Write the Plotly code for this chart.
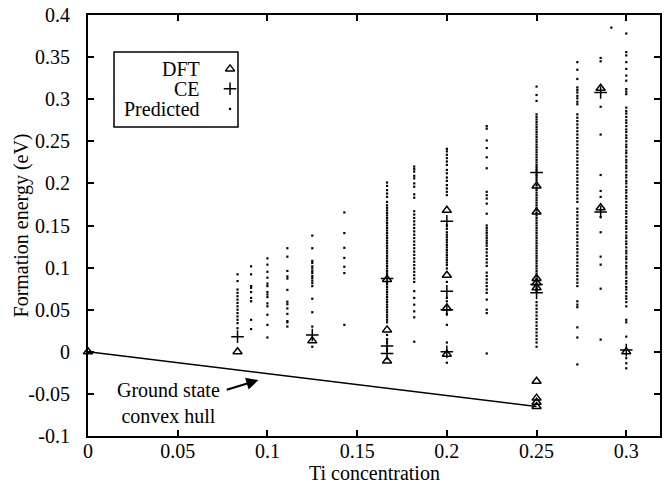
import plotly.graph_objects as go

# ---------------- data ----------------
# compositions (Ti concentration) of predicted structures
pred_x_1_12 = 1 / 12
pred_y_1_12 = [0.092, 0.084, 0.074, 0.070, 0.066, 0.062, 0.058, 0.054, 0.050, 0.046,
               0.042, 0.038, 0.034, 0.028]
pred_x_1_11 = 1 / 11
pred_y_1_11 = [0.1015, 0.092, 0.078, 0.076, 0.071, 0.064, 0.060, 0.038, 0.027]
pred_x_1_10 = 0.1
pred_y_1_10 = [0.111, 0.1035, 0.095, 0.088, 0.081, 0.078, 0.071, 0.068, 0.065, 0.0575,
               0.054, 0.044, 0.032, 0.017]
pred_x_1_9 = 1 / 9
pred_y_1_9 = [0.123, 0.113, 0.096, 0.0895, 0.087, 0.0735, 0.0595, 0.0565, 0.0515, 0.045,
              0.0365, 0.035, 0.030]
pred_x_1_8 = 1 / 8
pred_y_1_8 = [0.138, 0.123, 0.108, 0.1055, 0.1015, 0.099, 0.096, 0.0935, 0.090, 0.0875,
              0.0845, 0.0815, 0.078, 0.063, 0.047, 0.030, 0.006]
pred_x_1_7 = 1 / 7
pred_y_1_7 = [0.1655, 0.141, 0.1235, 0.1115, 0.101, 0.0935, 0.032]
pred_x_1_6 = 1 / 6
pred_y_1_6 = [0.201, 0.197, 0.192, 0.188, 0.184, 0.178, 0.174, 0.171, 0.168, 0.165,
              0.162, 0.159, 0.156, 0.153, 0.150, 0.147, 0.144, 0.141, 0.138, 0.135,
              0.132, 0.129, 0.126, 0.123, 0.120, 0.117, 0.114, 0.111, 0.108, 0.105,
              0.102, 0.099, 0.096, 0.093, 0.090, 0.083, 0.080, 0.077, 0.074, 0.071,
              0.068, 0.065, 0.062, 0.059, 0.056, 0.053, 0.050, 0.047, 0.044, 0.041,
              0.038, 0.035, 0.020, 0.015, 0.011, 0.003]
pred_x_2_11 = 2 / 11
pred_y_2_11 = [0.220, 0.217, 0.214, 0.209, 0.206, 0.200, 0.196, 0.187, 0.183, 0.167,
               0.163, 0.159, 0.155, 0.151, 0.147, 0.143, 0.139, 0.135, 0.131, 0.127,
               0.123, 0.119, 0.115, 0.111, 0.107, 0.103, 0.099, 0.095, 0.091, 0.087,
               0.083, 0.072, 0.064, 0.056, 0.048, 0.041, 0.012]
pred_x_1_5 = 0.2
pred_y_1_5 = [0.241, 0.238, 0.234, 0.230, 0.226, 0.222, 0.216, 0.212, 0.207, 0.203,
              0.198, 0.194, 0.190, 0.186, 0.150, 0.146, 0.142, 0.139, 0.136, 0.133,
              0.130, 0.127, 0.124, 0.121, 0.118, 0.115, 0.112, 0.109, 0.106, 0.103,
              0.099, 0.083, 0.064, 0.060, 0.045, 0.032, 0.011, -0.013]
pred_x_2_9 = 2 / 9
pred_y_2_9 = [0.268, 0.265, 0.251, 0.242, 0.231, 0.218, 0.190, 0.186, 0.182, 0.176,
              0.164, 0.150, 0.147, 0.144, 0.141, 0.138, 0.135, 0.132, 0.129, 0.126,
              0.122, 0.118, 0.114, 0.110, 0.106, 0.102, 0.094, 0.090, 0.086, 0.082,
              0.078, 0.074, 0.070, 0.062, 0.050, 0.046, -0.002]
pred_x_1_4 = 0.25
pred_y_1_4 = [0.315, 0.305, 0.298, 0.282, 0.279, 0.276, 0.273, 0.270, 0.267, 0.264,
              0.261, 0.258, 0.255, 0.252, 0.249, 0.246, 0.243, 0.240, 0.237, 0.234,
              0.231, 0.228, 0.225, 0.222, 0.219, 0.216, 0.213, 0.210, 0.207, 0.204,
              0.201, 0.198, 0.195, 0.192, 0.189, 0.186, 0.183, 0.180, 0.177, 0.174,
              0.171, 0.168, 0.165, 0.162, 0.159, 0.156, 0.153, 0.150, 0.147, 0.144,
              0.141, 0.138, 0.135, 0.132, 0.129, 0.126, 0.123, 0.120, 0.117, 0.114,
              0.111, 0.108, 0.105, 0.102, 0.099, 0.096, 0.093, 0.090, 0.087, 0.084,
              0.081, 0.078, 0.075, 0.072, 0.059, 0.055, 0.051, 0.047, 0.043, 0.039,
              0.035, 0.031, 0.027, 0.023, 0.019, 0.015, 0.011, 0.006]
pred_x_3_11 = 3 / 11
pred_y_3_11 = [0.344, 0.335, 0.324, 0.314, 0.311, 0.308, 0.304, 0.301, 0.297, 0.294,
               0.282, 0.278, 0.274, 0.270, 0.266, 0.262, 0.258, 0.254, 0.250, 0.246,
               0.242, 0.238, 0.234, 0.230, 0.226, 0.222, 0.218, 0.214, 0.210, 0.206,
               0.202, 0.198, 0.194, 0.190, 0.186, 0.182, 0.178, 0.170, 0.166, 0.162,
               0.158, 0.154, 0.150, 0.146, 0.142, 0.138, 0.134, 0.130, 0.126, 0.122,
               0.118, 0.114, 0.110, 0.106, 0.102, 0.098, 0.094, 0.090, 0.086, 0.082,
               0.078, 0.060, 0.056, 0.053, 0.029, 0.017, -0.015]
pred_x_2_7 = 2 / 7
pred_y_2_7 = [0.349, 0.345, 0.291, 0.258, 0.210, 0.191, 0.184, 0.160, 0.142, 0.113,
              0.1035, 0.075, 0.0145]
pred_x_7_24 = 7 / 24
pred_y_7_24 = [0.385]
pred_x_3_10 = 0.3
pred_y_3_10 = [0.378, 0.356, 0.352, 0.344, 0.336, 0.328, 0.322, 0.312, 0.309, 0.306,
               0.290, 0.286, 0.283, 0.279, 0.275, 0.272, 0.268, 0.264, 0.261, 0.257,
               0.254, 0.250, 0.246, 0.243, 0.239, 0.236, 0.232, 0.228, 0.225, 0.221,
               0.218, 0.214, 0.210, 0.207, 0.203, 0.200, 0.196, 0.192, 0.189, 0.185,
               0.182, 0.178, 0.174, 0.171, 0.167, 0.164, 0.160, 0.156, 0.153, 0.149,
               0.146, 0.142, 0.138, 0.135, 0.131, 0.128, 0.124, 0.120, 0.117, 0.113,
               0.110, 0.106, 0.102, 0.099, 0.095, 0.092, 0.088, 0.084, 0.081, 0.077,
               0.074, 0.070, 0.066, 0.063, 0.059, 0.054, 0.038, 0.035, 0.018, -0.0076,
               -0.0136, -0.0196]

pred_groups = [
    (pred_x_1_12, pred_y_1_12), (pred_x_1_11, pred_y_1_11), (pred_x_1_10, pred_y_1_10),
    (pred_x_1_9, pred_y_1_9), (pred_x_1_8, pred_y_1_8), (pred_x_1_7, pred_y_1_7),
    (pred_x_1_6, pred_y_1_6), (pred_x_2_11, pred_y_2_11), (pred_x_1_5, pred_y_1_5),
    (pred_x_2_9, pred_y_2_9), (pred_x_1_4, pred_y_1_4), (pred_x_3_11, pred_y_3_11),
    (pred_x_2_7, pred_y_2_7), (pred_x_7_24, pred_y_7_24), (pred_x_3_10, pred_y_3_10),
]

dft_x = [0.0, 1 / 12, 1 / 8, 1 / 6, 1 / 6, 1 / 6, 0.2, 0.2, 0.2, 0.2,
         0.25, 0.25, 0.25, 0.25, 0.25, 0.25, 0.25, 0.25, 0.25, 2 / 7, 2 / 7, 0.3]
dft_y = [0.0, 0.0, 0.013, 0.086, 0.026, -0.011, 0.168, 0.091, 0.052, -0.003,
         0.197, 0.166, 0.087, 0.082, 0.076, -0.035, -0.055, -0.060, -0.065, 0.313, 0.171, 0.0]

ce_x = [1 / 12, 1 / 8, 1 / 6, 1 / 6, 1 / 6, 0.2, 0.2, 0.2, 0.2, 0.25, 0.25, 0.25, 2 / 7, 2 / 7, 0.3]
ce_y = [0.018, 0.020, 0.087, 0.007, -0.002, 0.155, 0.072, 0.050, 0.0, 0.213, 0.080, 0.070,
        0.308, 0.166, 0.002]

hull_x = [0.0, 0.25]
hull_y = [0.0, -0.065]

x_ticks = [0, 0.05, 0.1, 0.15, 0.2, 0.25, 0.3]
x_tick_text = ["0", "0.05", "0.1", "0.15", "0.2", "0.25", "0.3"]
y_ticks = [-0.1, -0.05, 0, 0.05, 0.1, 0.15, 0.2, 0.25, 0.3, 0.35, 0.4]
y_tick_text = ["-0.1", "-0.05", "0", "0.05", "0.1", "0.15", "0.2", "0.25", "0.3", "0.35", "0.4"]

legend_labels = ["DFT", "CE", "Predicted"]
x_title = "Ti concentration"
y_title = "Formation energy (eV)"

# ---------------- figure ----------------
FONT = "Liberation Serif"
fig = go.Figure()

px_all, py_all = [], []
for gx, gy in pred_groups:
    px_all += [gx] * len(gy)
    py_all += gy

fig.add_trace(go.Scatter(x=hull_x, y=hull_y, mode="lines",
                         line=dict(color="black", width=1.5), showlegend=False, hoverinfo="skip"))
fig.add_trace(go.Scatter(x=px_all, y=py_all, mode="markers", name="Predicted",
                         marker=dict(symbol="square", size=2.2, color="black", line=dict(width=0)),
                         showlegend=False))
fig.add_trace(go.Scatter(x=ce_x, y=ce_y, mode="markers", name="CE",
                         marker=dict(symbol="cross-thin-open", size=9, color="black",
                                     line=dict(color="black", width=1.5)),
                         showlegend=False))
fig.add_trace(go.Scatter(x=dft_x, y=dft_y, mode="markers", name="DFT", cliponaxis=False,
                         marker=dict(symbol="triangle-up-open", size=8, color="black",
                                     line=dict(color="black", width=1.5)),
                         showlegend=False))

# custom legend (gnuplot style: text right aligned, symbol on the right)
leg_rows_y = [0.872, 0.825, 0.777]
leg_sym_x = 0.2483
leg_txt_x = 0.199
fig.add_trace(go.Scatter(x=[leg_sym_x], y=[leg_rows_y[0]], xaxis="x2", yaxis="y2", mode="markers",
                         marker=dict(symbol="triangle-up-open", size=8, color="black",
                                     line=dict(color="black", width=1.5)),
                         showlegend=False, hoverinfo="skip"))
fig.add_trace(go.Scatter(x=[leg_sym_x], y=[leg_rows_y[1]], xaxis="x2", yaxis="y2", mode="markers",
                         marker=dict(symbol="cross-thin-open", size=9, color="black",
                                     line=dict(color="black", width=1.5)),
                         showlegend=False, hoverinfo="skip"))
fig.add_trace(go.Scatter(x=[leg_sym_x], y=[leg_rows_y[2]], xaxis="x2", yaxis="y2", mode="markers",
                         marker=dict(symbol="square", size=2.2, color="black", line=dict(width=0)),
                         showlegend=False, hoverinfo="skip"))
for lab, yy in zip(legend_labels, leg_rows_y):
    fig.add_annotation(x=leg_txt_x, y=yy, xref="paper", yref="paper", text=lab, showarrow=False,
                       xanchor="right", yanchor="middle", font=dict(family=FONT, size=20, color="black"))
fig.add_shape(type="rect", xref="paper", yref="paper", x0=0.0455, x1=0.2622, y0=0.734, y1=0.912,
              line=dict(color="black", width=1.5), fillcolor="rgba(0,0,0,0)")

# axis titles
fig.add_annotation(x=0.5, y=-0.088, xref="paper", yref="paper", text=x_title, showarrow=False,
                   xanchor="center", yanchor="middle", font=dict(family=FONT, size=20, color="black"))
fig.add_annotation(x=-0.1154, y=0.5, xref="paper", yref="paper", text=y_title, showarrow=False,
                   textangle=-90, xanchor="center", yanchor="middle",
                   font=dict(family=FONT, size=20, color="black"))

# hull annotation
fig.add_annotation(x=0.0447, y=-0.0612, xref="x", yref="y", text="Ground state<br>convex hull",
                   showarrow=False, font=dict(family=FONT, size=20, color="black"),
                   align="center", xanchor="center", yanchor="middle")
fig.add_annotation(x=0.095, y=-0.0336, ax=0.0765, ay=-0.0456, xref="x", yref="y",
                   axref="x", ayref="y", text="", showarrow=True, arrowhead=2, arrowsize=1.1,
                   arrowwidth=2.2, arrowcolor="black")

axis_common = dict(showline=True, linecolor="black", linewidth=2, mirror="allticks",
                   ticks="inside", ticklen=6, tickwidth=2, tickcolor="black",
                   showgrid=False, zeroline=False, automargin=False,
                   tickfont=dict(family=FONT, size=20, color="black"))

fig.update_layout(
    width=668, height=487,
    margin=dict(l=88, r=8, t=15, b=51),
    paper_bgcolor="white", plot_bgcolor="white",
    font=dict(family=FONT, size=20, color="black"),
    showlegend=False,
    xaxis=dict(range=[0, 0.3188], tickvals=x_ticks, ticktext=x_tick_text,
               ticklabelstandoff=-4, **axis_common),
    yaxis=dict(range=[-0.1, 0.4], tickvals=y_ticks, ticktext=y_tick_text,
               ticklabelstandoff=12, **axis_common),
    xaxis2=dict(range=[0, 1], overlaying="x", visible=False, fixedrange=True),
    yaxis2=dict(range=[0, 1], overlaying="y", visible=False, fixedrange=True),
)

fig.write_html("out.html", config={"displayModeBar": False},
               post_script="document.body.style.margin='0px';document.body.style.overflow='hidden';")
